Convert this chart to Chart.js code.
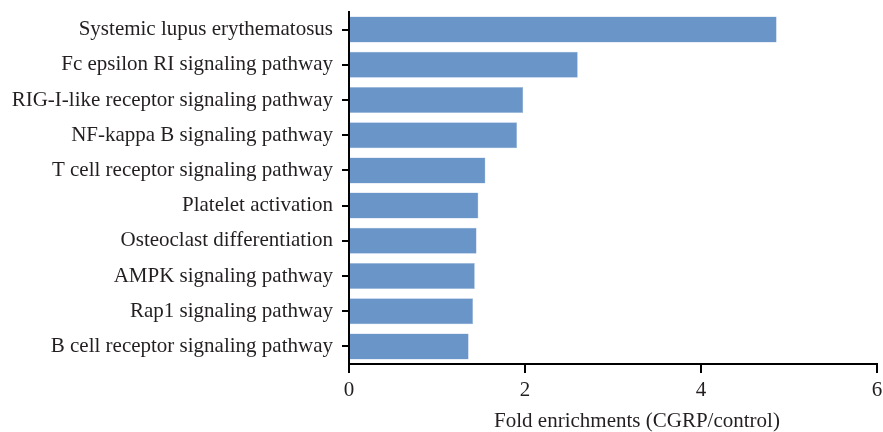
<!DOCTYPE html>
<html>
<head>
<meta charset="utf-8">
<script src="https://cdn.jsdelivr.net/npm/chart.js@4/dist/chart.umd.min.js"></script>
<style>
  body { margin: 0; background: #fff; }
  canvas { display: block; }
</style>
</head>
<body>
<canvas id="myChart" width="883" height="432"></canvas>
<script>
// KEGG pathways, top to bottom
const pathways = [
  'Systemic lupus erythematosus',
  'Fc epsilon RI signaling pathway',
  'RIG-I-like receptor signaling pathway',
  'NF-kappa B signaling pathway',
  'T cell receptor signaling pathway',
  'Platelet activation',
  'Osteoclast differentiation',
  'AMPK signaling pathway',
  'Rap1 signaling pathway',
  'B cell receptor signaling pathway'
];
const foldEnrichment = [4.86, 2.60, 1.98, 1.91, 1.55, 1.47, 1.45, 1.43, 1.41, 1.36];
const xTicks = [0, 2, 4, 6];
const xTitle = 'Fold enrichments (CGRP/control)';

const fontFamily = '"Liberation Serif", "Times New Roman", serif';
const textColor = '#231f20';

// axis title sits a bit right of the axis centre in the original
const titlePlugin = {
  id: 'xTitle',
  afterDraw(chart) {
    const ctx = chart.ctx;
    const area = chart.chartArea;
    ctx.save();
    ctx.font = '21px ' + fontFamily;
    ctx.fillStyle = textColor;
    ctx.textAlign = 'center';
    ctx.textBaseline = 'middle';
    ctx.fillText(xTitle, (area.left + area.right) / 2 + 24, 421);
    ctx.restore();
  }
};

new Chart('myChart', {
  type: 'bar',
  data: {
    labels: pathways,
    datasets: [{
      label: 'Fold enrichment',
      data: foldEnrichment,
      backgroundColor: '#6995c8',
      borderColor: '#a8c0de',
      borderWidth: 0.5,
      barPercentage: 0.74,
      categoryPercentage: 1
    }]
  },
  options: {
    indexAxis: 'y',
    responsive: false,
    animation: false,
    layout: { padding: { top: 12, right: 6, bottom: 0, left: 0 } },
    plugins: {
      legend: { display: false },
      tooltip: { enabled: false }
    },
    scales: {
      x: {
        min: 0,
        max: 6,
        afterBuildTicks(scale) {
          scale.ticks = xTicks.map(v => ({ value: v }));
        },
        afterFit(scale) {
          scale.height = 68;
          scale.paddingLeft = 0;
          scale.paddingRight = 0;
        },
        grid: {
          drawOnChartArea: false,
          color: '#000',
          lineWidth: 2,
          tickLength: 9
        },
        border: { color: '#000', width: 2 },
        ticks: {
          color: textColor,
          padding: 5,
          maxRotation: 0,
          font: { family: fontFamily, size: 21 }
        }
      },
      y: {
        afterFit(scale) {
          scale.width = 349;
          scale.paddingTop = 0;
          scale.paddingBottom = 0;
        },
        grid: {
          offset: false,
          drawOnChartArea: false,
          color: '#000',
          lineWidth: 2,
          tickLength: 7
        },
        border: { color: '#000', width: 2 },
        ticks: {
          color: textColor,
          padding: 9,
          autoSkip: false,
          font: { family: fontFamily, size: 21 }
        }
      }
    }
  },
  plugins: [titlePlugin]
});
</script>
</body>
</html>
